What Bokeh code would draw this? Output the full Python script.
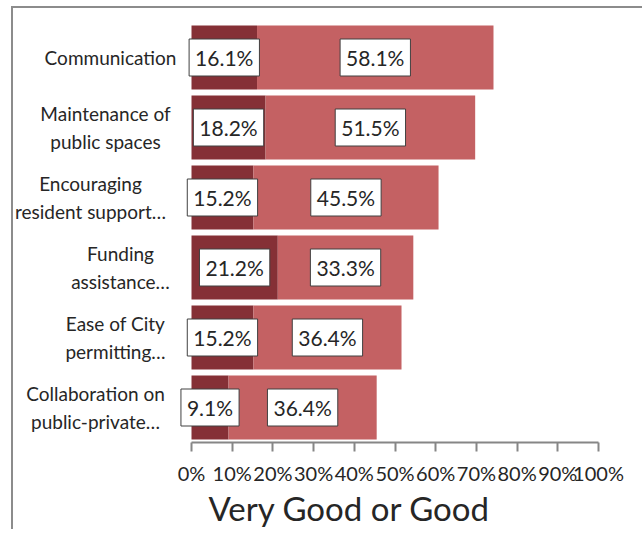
from bokeh.plotting import figure
from bokeh.models import ColumnDataSource, FactorRange, Range1d, FixedTicker, Title
from bokeh.core.properties import value
from bokeh.embed import file_html
from bokeh.resources import INLINE

categories = ["Communication", "Maintenance of public spaces", "Encouraging resident support",
              "Funding assistance", "Ease of City permitting", "Collaboration on public-private"]
category_labels = ["Communication", "Maintenance of\npublic spaces", "Encouraging\nresident support…",
                   "Funding\nassistance…", "Ease of City\npermitting…", "Collaboration on\npublic-private…"]
very_good = [16.1, 18.2, 15.2, 21.2, 15.2, 9.1]
good = [58.1, 51.5, 45.5, 33.3, 36.4, 36.4]
tick_values = [0, 10, 20, 30, 40, 50, 60, 70, 80, 90, 100]
tick_labels = ["0%", "10%", "20%", "30%", "40%", "50%", "60%", "70%", "80%", "90%", "100%"]
axis_title = "Very Good or Good"

DARK = "#853036"
LIGHT = "#C46163"
FONT = "Lato"

px_per_unit = 4.07
frame_left_gap = 178  # px between frame left and 0%
frame_w = 629
frame_h = 420

total = [a + b for a, b in zip(very_good, good)]
# label block center: right edge minus half the widest line (approx char width)
label_dx = []
for t in category_labels:
    widest = max(len(s) for s in t.split("\n"))
    label_dx.append(-16 - widest * 10 / 2)

src = ColumnDataSource(dict(
    cat=categories,
    lab=category_labels,
    vg=very_good,
    g=good,
    tot=total,
    zero=[0] * len(categories),
    vg_mid=[v / 2 for v in very_good],
    g_mid=[v + w / 2 for v, w in zip(very_good, good)],
    vg_txt=[f"{v:.1f}%" for v in very_good],
    g_txt=[f"{v:.1f}%" for v in good],
    dx=label_dx,
))

x0 = -frame_left_gap / px_per_unit
p = figure(
    y_range=FactorRange(factors=categories[::-1], range_padding=0),
    x_range=Range1d(x0, x0 + frame_w / px_per_unit),
    frame_width=frame_w, frame_height=frame_h,
    output_backend="svg", toolbar_location=None,
    min_border_left=0, min_border_right=0, min_border_top=14, min_border_bottom=0,
    background_fill_color="white", border_fill_color="white",
    outline_line_color=None,
    margin=(6, 0, 0, 11),
    styles={"border-left": "2px solid #8c8c8c", "border-top": "2px solid #8c8c8c"},
)

p.hbar(y="cat", left="zero", right="vg", height=0.914, source=src, fill_color=DARK, line_color=None)
p.hbar(y="cat", left="vg", right="tot", height=0.914, source=src, fill_color=LIGHT, line_color=None)

lab_kw = dict(text_font=value(FONT), text_font_size="21px", text_color="#262626",
              text_align="center", text_baseline="middle",
              background_fill_color="white", border_line_color="#404040", border_line_width=1,
              padding=6)
p.text(x="vg_mid", y="cat", text="vg_txt", source=src, **lab_kw)
p.text(x="g_mid", y="cat", text="g_txt", source=src, **lab_kw)

p.text(x="zero", y="cat", text="lab", x_offset="dx", source=src,
       text_font=value(FONT), text_font_size="19px", text_color="#262626",
       text_align="center", text_baseline="middle", text_line_height=1.2)

p.yaxis.visible = False
p.xgrid.grid_line_color = None
p.ygrid.grid_line_color = None

ax = p.xaxis[0]
ax.ticker = FixedTicker(ticks=tick_values)
ax.major_label_overrides = {v: l for v, l in zip(tick_values, tick_labels)}
ax.bounds = (0, 100)
ax.axis_line_color = "#868686"
ax.axis_line_width = 2
ax.major_tick_line_color = "#868686"
ax.major_tick_line_width = 2
ax.major_tick_in = 0
ax.major_tick_out = 9
ax.minor_tick_line_color = None
ax.major_label_standoff = 9
ax.major_label_text_font = FONT
ax.major_label_text_font_size = "20px"
ax.major_label_text_line_height = 0.4
ax.major_label_text_color = "#262626"

t = Title(text=axis_title, align="left", offset=195, standoff=0, vertical_align="top",
          text_font=FONT, text_font_size="33px", text_font_style="normal", text_color="#262626")
p.add_layout(t, "below")

open("out.html", "w").write(file_html(p, INLINE))
